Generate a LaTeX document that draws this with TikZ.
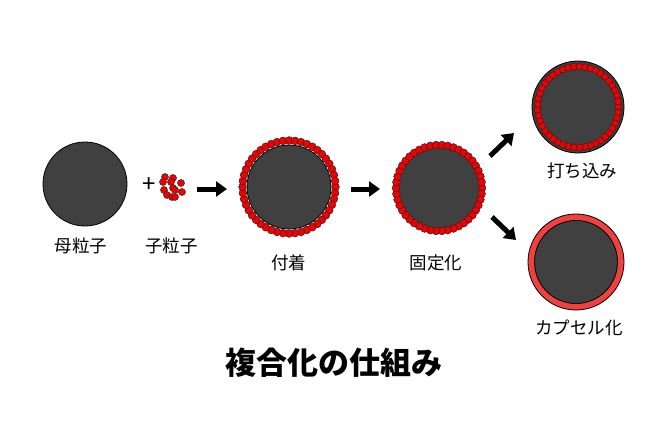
\documentclass[tikz,border=0pt]{standalone}
\usepackage{fontspec}
\newfontfamily\jp{Noto Sans CJK JP}
\usetikzlibrary{arrows.meta,calc}
\definecolor{core}{HTML}{404040}
\definecolor{dotred}{HTML}{F00000}
\definecolor{shell}{HTML}{F04040}
\begin{document}
\begin{tikzpicture}[x=1pt,y=-1pt,
  corep/.style={circle,draw=black,line width=0.8pt,fill=core,minimum size=#1,inner sep=0pt},
  dotp/.style={circle,draw=black!85,line width=0.5pt,fill=dotred,minimum size=#1,inner sep=0pt},
  lbl/.style={font=\jp\fontsize{17.5}{20}\selectfont},
  bigarrow/.style={line width=5pt,-{Triangle[width=15pt,length=11pt]}}]
\useasboundingbox (0,0) rectangle (670,442);
% mother particle
\node[corep=84pt] (mother) at (85,184) {};
\node[lbl] (lmother) at (81,246) {母粒子};
% plus
\node[font=\jp\fontsize{24}{26}\selectfont] (plus) at (149,185) {+};
% child particles
\foreach \x/\y [count=\i] in {165/177,173/178,163/182,171/182,181/183,164/190,173/188,175/190,182/192,167/195,172/197,175/197}
  \node[dotp=7pt] (c\i) at (\x,\y) {};
\node[lbl] (lchild) at (171.5,246) {子粒子};
% arrow 1
\coordinate (a1s) at (197,189); \coordinate (a1e) at (227,189);
\draw[bigarrow] (a1s) -- (a1e);
% attached
\node[corep=84pt] (att) at (289,187) {};
\foreach \k in {0,...,47}
  \node[dotp=7.8pt] (t\k) at ($(att)+({360/48*\k}:46.5)$) {};
\node[lbl] (latt) at (288.5,263) {付着};
% arrow 2
\coordinate (a2s) at (351,189); \coordinate (a2e) at (380,189);
\draw[bigarrow] (a2s) -- (a2e);
% fixed
\node[corep=84pt] (fix) at (439,188) {};
\foreach \k in {0,...,45}
  \node[dotp=7.8pt] (f\k) at ($(fix)+({360/46*\k}:43)$) {};
\node[lbl] (lfix) at (436,263) {固定化};
% branch arrows
\coordinate (a3s) at (490,156); \coordinate (a3e) at (514,133);
\draw[bigarrow] (a3s) -- (a3e);
\coordinate (a4s) at (492,217); \coordinate (a4e) at (516,240);
\draw[bigarrow] (a4s) -- (a4e);
% implanted
\node[corep=92pt] (imp) at (578,107) {};
\foreach \k in {0,...,44}
  \node[dotp=7pt] (p\k) at ($(imp)+({360/45*\k}:40.5)$) {};
\node[lbl] (limp) at (582,171) {打ち込み};
% capsule
\node[circle,draw=black,line width=0.8pt,fill=shell,minimum size=96pt,inner sep=0pt] (cap) at (576,262) {};
\node[corep=83pt] (capcore) at (576,262) {};
\node[lbl] (lcap) at (579,328) {カプセル化};
% title
\node[font=\jp\bfseries\fontsize{31}{34}\selectfont] (title) at (334,363) {複合化の仕組み};
\end{tikzpicture}
\end{document}
